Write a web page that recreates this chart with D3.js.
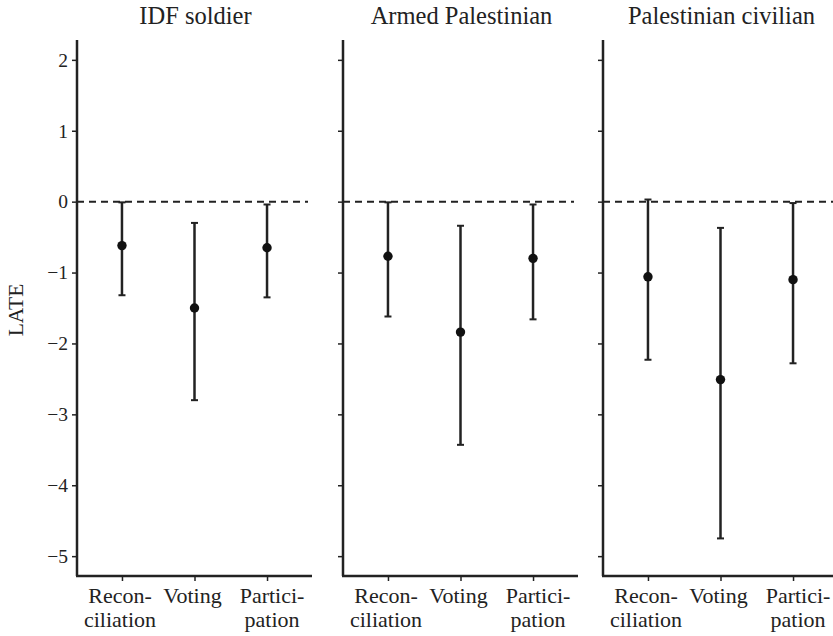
<!DOCTYPE html>
<html>
<head>
<meta charset="utf-8">
<script src="https://cdn.jsdelivr.net/npm/d3@7"></script>
<style>
  html, body { margin: 0; padding: 0; background: #fff; }
  svg { display: block; }
</style>
</head>
<body>
<svg id="chart" width="833" height="636"></svg>
<script>
// ---- data ----
const panels = ["IDF soldier", "Armed Palestinian", "Palestinian civilian"];
const categories = ["Reconciliation", "Voting", "Participation"];
const categoryLabels = [["Recon-", "ciliation"], ["Voting"], ["Partici-", "pation"]];
// point estimates per panel (order: Reconciliation, Voting, Participation)
const estIDF      = [-0.62, -1.50, -0.65];
const estArmed    = [-0.77, -1.84, -0.80];
const estCivilian = [-1.06, -2.51, -1.10];
// confidence interval upper bounds
const hiIDF      = [-0.01, -0.30, -0.04];
const hiArmed    = [-0.01, -0.34, -0.04];
const hiCivilian = [ 0.03, -0.37, -0.02];
// confidence interval lower bounds
const loIDF      = [-1.32, -2.80, -1.35];
const loArmed    = [-1.62, -3.43, -1.66];
const loCivilian = [-2.23, -4.75, -2.28];
const yTicks = [2, 1, 0, -1, -2, -3, -4, -5];
const yDomain = [-5.28, 2.28];

const est = [estIDF, estArmed, estCivilian];
const hi = [hiIDF, hiArmed, hiCivilian];
const lo = [loIDF, loArmed, loCivilian];

// ---- layout ----
const FONT = "'Liberation Serif', 'Times New Roman', Tinos, 'DejaVu Serif', serif";
const svg = d3.select("#chart");
const panelLeft = [77, 343, 603];
const panelW = 235;
const plotTop = 40, plotBottom = 576;
const ink = "#222";

const y = d3.scaleLinear().domain(yDomain).range([plotBottom, plotTop]);
const x = d3.scalePoint().domain(categories).range([0, panelW]).padding(0.62);
const fmt = d => d < 0 ? "\u2212" + Math.abs(d) : String(d);

panels.forEach((name, p) => {
  const g = svg.append("g").attr("transform", `translate(${panelLeft[p]},0)`);

  // title
  g.append("text")
    .attr("x", panelW / 2 + 1)
    .attr("y", 24)
    .attr("text-anchor", "middle")
    .attr("font-family", FONT)
    .attr("font-size", 24.5)
    .attr("fill", ink)
    .text(name);

  // zero dashed line
  g.append("line")
    .attr("x1", 0).attr("x2", panelW - 4)
    .attr("y1", y(0)).attr("y2", y(0))
    .attr("stroke", ink).attr("stroke-width", 2)
    .attr("stroke-dasharray", "7,5");

  // y axis
  const ya = d3.axisLeft(y).tickValues(yTicks).tickSize(5).tickPadding(4)
    .tickFormat(p === 0 ? fmt : () => "");
  const yg = g.append("g").call(ya)
    .attr("font-family", FONT).attr("font-size", 19.5);
  yg.select(".domain").attr("stroke", ink).attr("stroke-width", 2.5)
    .attr("d", `M0,${plotTop}V${plotBottom}`);
  yg.selectAll(".tick line").attr("stroke", ink).attr("stroke-width", 1.5);
  yg.selectAll(".tick text").attr("fill", ink);

  // x axis
  const xa = d3.axisBottom(x).tickSize(5).tickFormat(() => "");
  const xg = g.append("g").attr("transform", `translate(0,${plotBottom})`).call(xa);
  xg.select(".domain").attr("stroke", ink).attr("stroke-width", 2.5)
    .attr("d", `M-1,0H${panelW}`);
  xg.selectAll(".tick line").attr("stroke", ink).attr("stroke-width", 1.5);

  // category labels
  categories.forEach((c, i) => {
    const lx = x(c) + (i === 2 ? 5 : -2);
    const t = g.append("text")
      .attr("text-anchor", "middle")
      .attr("x", lx)
      .attr("y", 603)
      .attr("font-family", FONT)
      .attr("font-size", 22)
      .attr("fill", ink);
    categoryLabels[i].forEach((line, k) => {
      t.append("tspan").attr("x", lx).attr("dy", k === 0 ? 0 : 24).text(line);
    });
  });

  // error bars
  categories.forEach((c, i) => {
    const cx = x(c);
    g.append("line")
      .attr("x1", cx).attr("x2", cx)
      .attr("y1", y(hi[p][i])).attr("y2", y(lo[p][i]))
      .attr("stroke", ink).attr("stroke-width", 2.5);
    [hi[p][i], lo[p][i]].forEach(v => {
      g.append("line")
        .attr("x1", cx - 3.5).attr("x2", cx + 3.5)
        .attr("y1", y(v)).attr("y2", y(v))
        .attr("stroke", ink).attr("stroke-width", 2);
    });
    g.append("circle")
      .attr("cx", cx).attr("cy", y(est[p][i]))
      .attr("r", 4.7).attr("fill", "#111");
  });
});

// y label
svg.append("text")
  .attr("transform", "translate(23,310) rotate(-90)")
  .attr("text-anchor", "middle")
  .attr("font-family", FONT)
  .attr("font-size", 21.5)
  .attr("fill", ink)
  .text("LATE");
</script>
</body>
</html>
